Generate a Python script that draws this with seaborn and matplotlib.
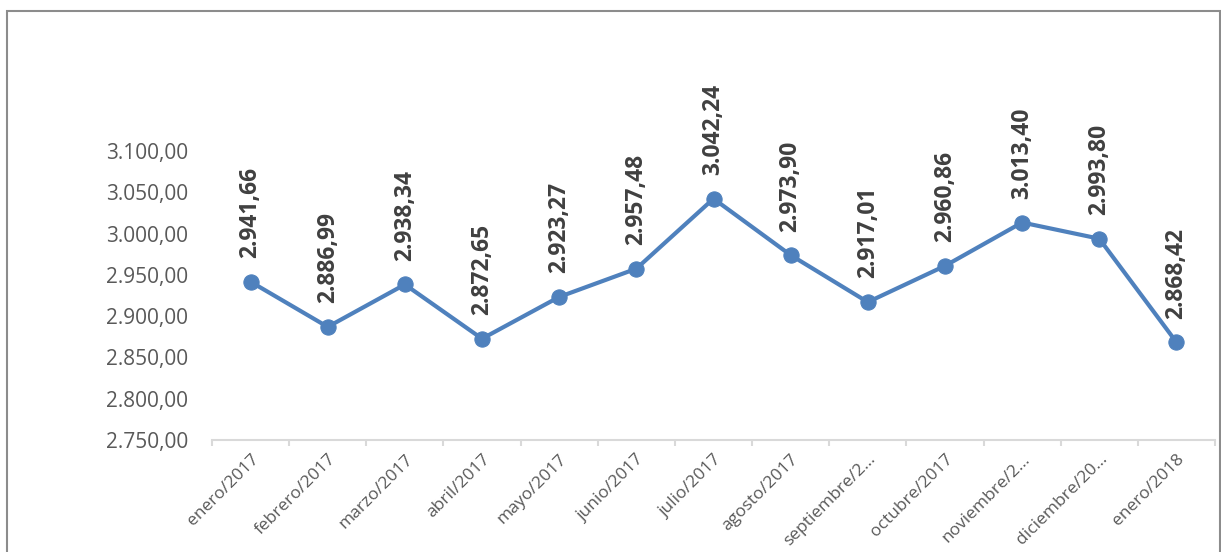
import numpy as np
import pandas as pd
import seaborn as sns
import matplotlib.pyplot as plt
from matplotlib.patches import Rectangle
from matplotlib.ticker import FuncFormatter

# Data
meses = ["enero/2017", "febrero/2017", "marzo/2017", "abril/2017", "mayo/2017",
         "junio/2017", "julio/2017", "agosto/2017", "septiembre/2…",
         "octubre/2017", "noviembre/2…", "diciembre/20…", "enero/2018"]
valores = [2941.66, 2886.99, 2938.34, 2872.65, 2923.27, 2957.48, 3042.24,
           2973.90, 2917.01, 2960.86, 3013.40, 2993.80, 2868.42]
y_ticks = [2750, 2800, 2850, 2900, 2950, 3000, 3050, 3100]


def es_num(v):
    s = f"{v:,.2f}"
    return s.replace(",", "X").replace(".", ",").replace("X", ".")


df = pd.DataFrame({"mes": meses, "valor": valores})

sns.set_style("white")
plt.rcParams['font.family'] = ['Open Sans', 'DejaVu Sans']

fig = plt.figure(figsize=(12.21, 5.52), dpi=100)
ax = fig.add_axes([212 / 1221, 1 - 440 / 552, 1003 / 1221, 289 / 552])

color = "#4F81BD"
sns.lineplot(data=df, x="mes", y="valor", sort=False, ax=ax, color=color,
             linewidth=3, marker="o", markersize=11, markeredgecolor=color,
             clip_on=False)

for i, v in enumerate(valores):
    ax.annotate(es_num(v), (i, v), xytext=(0, 17), textcoords="offset points",
                rotation=90, ha="center", va="bottom", fontsize=16.5,
                fontweight="bold", color="#404040", annotation_clip=False)

ax.set_xlim(-0.5, len(meses) - 0.5)
ax.set_ylim(2750, 3100)
ax.set_yticks(y_ticks)
ax.yaxis.set_major_formatter(FuncFormatter(lambda v, p: es_num(v)))
ax.set_xticks(range(len(meses)))
ax.set_xticklabels(meses, rotation=45, ha="right", rotation_mode="anchor")
ax.set_xticks(np.arange(-0.5, len(meses), 1), minor=True)
ax.set_xlabel("")
ax.set_ylabel("")

for s in ["top", "right", "left"]:
    ax.spines[s].set_visible(False)
ax.spines["bottom"].set_color("#D9D9D9")
ax.spines["bottom"].set_linewidth(1.5)

ax.tick_params(axis="y", length=0, pad=17, labelsize=15, labelcolor="#595959")
ax.tick_params(axis="x", which="major", length=0, pad=8, labelsize=12.5,
               labelcolor="#595959")
ax.tick_params(axis="x", which="minor", length=4, width=1.5, color="#D9D9D9",
               bottom=True)

fig.patches.append(Rectangle((7.5 / 1221, -0.1), (1220 - 7.5) / 1221,
                             1.1 - 10.5 / 552, transform=fig.transFigure,
                             fill=False, edgecolor="#8C8C8C", linewidth=1.5))

plt.savefig("out.png", dpi=100)
